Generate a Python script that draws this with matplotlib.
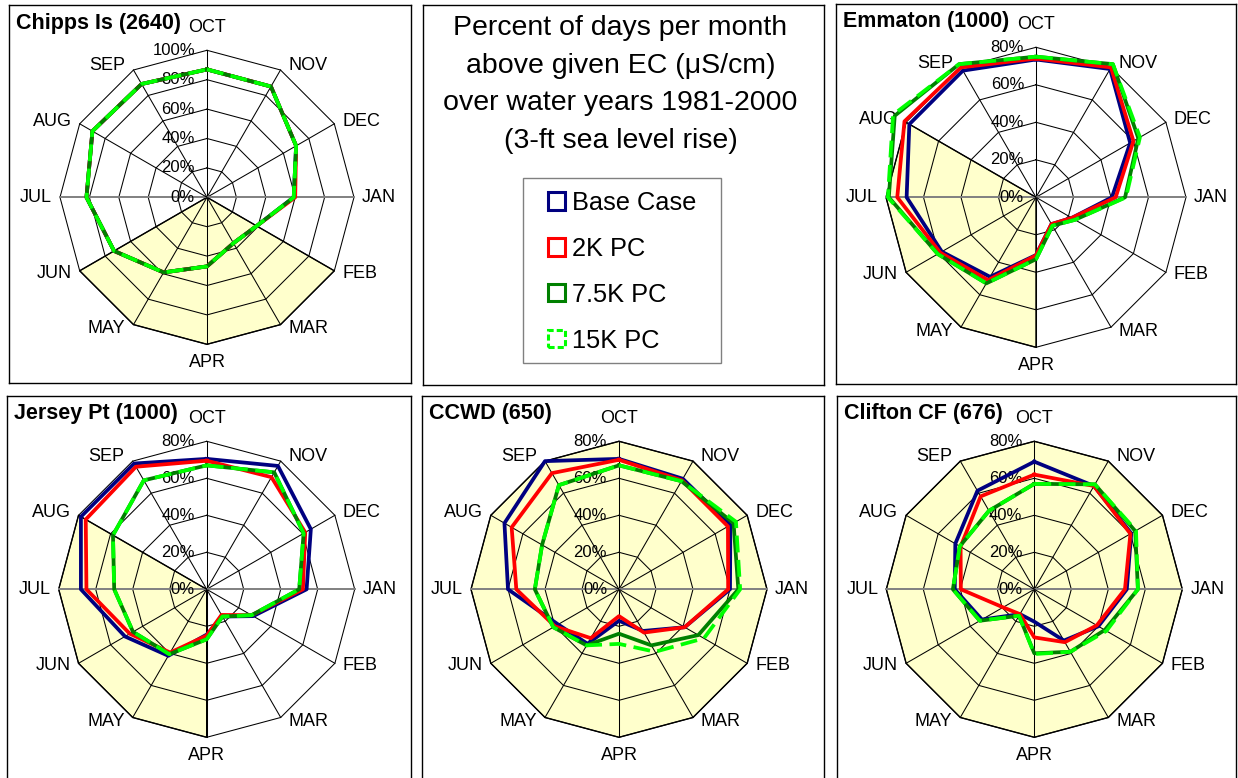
import numpy as np
import matplotlib.pyplot as plt
from matplotlib.patches import Patch, Rectangle

plt.rcParams['font.family'] = ['Liberation Sans', 'DejaVu Sans']

months = ['OCT', 'NOV', 'DEC', 'JAN', 'FEB', 'MAR', 'APR', 'MAY', 'JUN', 'JUL', 'AUG', 'SEP']
series_names = ['Base Case', '2K PC', '7.5K PC', '15K PC']
series_colors = ['#000080', '#FF0000', '#008000', '#00FF00']

title_lines = ['Percent of days per month',
               'above given EC (\u03bcS/cm)',
               'over water years 1981-2000',
               '(3-ft sea level rise)']

# percent of days per month, OCT..SEP
chipps_base = [87, 87, 70, 59, 39, 36, 47, 59, 73, 82, 90, 89]
chipps_2k = [87, 87, 70, 60, 39, 36, 47, 59, 73, 82, 90, 89]
chipps_75k = [87, 87, 70, 59, 39, 36, 47, 59, 73, 82, 90, 89]
chipps_15k = [87, 87, 70, 59, 39, 36, 47, 59, 73, 82, 90, 89]
chipps_shade = [0, 0, 0, 0, 100, 100, 100, 100, 100, 0, 0, 0]

emmaton_base = [73.5, 79, 58, 40.5, 22, 16.5, 30.8, 49, 58, 69, 78, 78]
emmaton_2k = [74, 80, 60, 42.5, 22, 16.5, 31, 51, 59, 74, 81, 80]
emmaton_75k = [75, 82, 63, 47.5, 24, 17.5, 33, 53, 60.5, 78.5, 87, 82]
emmaton_15k = [75, 82, 64, 48, 24, 17.5, 33, 53, 60.5, 79, 88, 82]
emmaton_shade = [0, 0, 0, 0, 0, 0, 80, 80, 80, 80, 80, 0]

jersey_base = [70.5, 77, 65, 54, 29, 17, 24.5, 41.5, 51, 68, 78.5, 78.5]
jersey_2k = [69.5, 70, 61.5, 52, 28, 16, 25, 39.5, 48, 65, 75.5, 76.5]
jersey_75k = [67, 73, 60.5, 50, 28, 17, 27, 40.5, 46, 50, 58.5, 68]
jersey_15k = [67, 73, 60.5, 50, 28, 17, 27, 40.5, 46, 50, 58.5, 68]
jersey_shade = [0, 0, 0, 0, 0, 0, 80, 80, 80, 80, 80, 0]

ccwd_base = [70.5, 69, 69.5, 60, 41, 26, 17, 34, 38, 60, 71.5, 80]
ccwd_2k = [70, 68, 68, 59, 41, 27, 14.5, 30.5, 40, 55.5, 67, 72.5]
ccwd_75k = [67, 67.5, 71.5, 64.5, 49.5, 35, 24, 35, 41, 45.5, 48, 65]
ccwd_15k = [67, 67.5, 73, 65.5, 53, 39, 29.5, 35, 41, 45.5, 48, 65]
ccwd_shade = [80] * 12

clifton_base = [69, 64.5, 60.5, 50, 40, 32, 17.5, 15.5, 32.7, 43, 49.3, 61.5]
clifton_2k = [62, 64.5, 60, 49, 39, 33, 26, 15.5, 19.5, 39.7, 46, 58]
clifton_75k = [57, 65.5, 63, 56, 44, 39, 34.6, 16.5, 34, 44, 46.5, 49]
clifton_15k = [57, 65.5, 63.5, 56, 45, 39, 35, 16.5, 34, 44, 46.5, 49]
clifton_shade = [80] * 12

W, H = 1238, 778
fig = plt.figure(figsize=(W / 100, H / 100), dpi=100)


def px_axes(x0, y0, x1, y1):
    ax = fig.add_axes([x0 / W, 1 - y1 / H, (x1 - x0) / W, (y1 - y0) / H])
    ax.set_xticks([])
    ax.set_yticks([])
    for s in ax.spines.values():
        s.set_linewidth(1.0)
        s.set_color('black')
    return ax


theta = np.arange(12) * 2 * np.pi / 12
sx, sy = np.sin(theta), np.cos(theta)


def closed(v):
    v = np.asarray(v, float)
    return np.append(v * sx, v[0] * sx[0]), np.append(v * sy, v[0] * sy[0])


def radar_panel(box, center, radius, vmax, title, series, shade):
    x0, y0, x1, y1 = box
    ax = px_axes(*box)
    cx, cy = center
    k = vmax / radius
    ax.set_xlim((x0 - cx) * k, (x1 - cx) * k)
    ax.set_ylim((cy - y1) * k, (cy - y0) * k)

    xs, ys = closed(shade)
    ax.fill(xs, ys, facecolor='#FFFFCC', edgecolor='black', linewidth=1.0, zorder=1)

    for lev in np.arange(20, vmax + 1, 20):
        xs, ys = closed([lev] * 12)
        ax.plot(xs, ys, color='black', lw=0.75, zorder=2)
    for i in range(12):
        if i in (3, 9):
            ax.plot([0, vmax * sx[i]], [0, vmax * sy[i]], color='#808080', lw=1.4, zorder=2)
        else:
            ax.plot([0, vmax * sx[i]], [0, vmax * sy[i]], color='black', lw=0.75, zorder=2)

    for lev in np.arange(0, vmax + 1, 20):
        ax.annotate(f'{lev}%', (0, lev), xytext=(-12, 0), textcoords='offset pixels',
                    ha='right', va='center', fontsize=12, zorder=3)

    for i, m in enumerate(months):
        vx, vy = vmax * sx[i], vmax * sy[i]
        if i == 0:
            off, ha = (0, 23), 'center'
        elif i == 6:
            off, ha = (0, -18), 'center'
        elif i < 6:
            off, ha = (8, 5 * sy[i]), 'left'
        else:
            off, ha = (-8, 5 * sy[i]), 'right'
        ax.annotate(m, (vx, vy), xytext=off, textcoords='offset pixels',
                    ha=ha, va='center', fontsize=13)

    for vals, col in zip(series, series_colors):
        xs, ys = closed(vals)
        if col == '#00FF00':
            ax.plot(xs, ys, color=col, lw=2.7, dashes=(4.5, 2), zorder=5)
        else:
            ax.plot(xs, ys, color=col, lw=2.7, zorder=4)

    ax.annotate(title, (0, 1), xycoords='axes fraction', xytext=(7, -18),
                textcoords='offset pixels', ha='left', va='center',
                fontsize=15.5, fontweight='bold')
    return ax


radar_panel((9, 5, 411, 383), (207, 197.3), 147, 100, 'Chipps Is (2640)',
            [chipps_base, chipps_2k, chipps_75k, chipps_15k], chipps_shade)
radar_panel((836, 4, 1236, 384), (1036, 197.3), 150, 80, 'Emmaton (1000)',
            [emmaton_base, emmaton_2k, emmaton_75k, emmaton_15k], emmaton_shade)
radar_panel((7, 396, 411, 800), (206.7, 589.3), 148, 80, 'Jersey Pt (1000)',
            [jersey_base, jersey_2k, jersey_75k, jersey_15k], jersey_shade)
radar_panel((422, 396, 824, 800), (619, 589.3), 148, 80, 'CCWD (650)',
            [ccwd_base, ccwd_2k, ccwd_75k, ccwd_15k], ccwd_shade)
radar_panel((837, 396, 1236, 800), (1034.3, 589.3), 148, 80, 'Clifton CF (676)',
            [clifton_base, clifton_2k, clifton_75k, clifton_15k], clifton_shade)

# text / legend panel
tx0, ty0, tx1, ty1 = 423, 5, 824, 385
ax2 = px_axes(tx0, ty0, tx1, ty1)
for j, line in enumerate(title_lines):
    ax2.annotate(line, (0.5, 1), xycoords='axes fraction',
                 xytext=(-3, -(23 + 37.6 * j)), textcoords='offset pixels',
                 ha='center', va='center', fontsize=20.5)

handles = []
for name, col in zip(series_names, series_colors):
    ls = (0, (2, 1)) if col == '#00FF00' else '-'
    handles.append(Patch(facecolor='none', edgecolor=col, linewidth=2.2, linestyle=ls))
tw, th = tx1 - tx0, ty1 - ty0
ax2.add_patch(Rectangle(((523 - tx0) / tw, 1 - (363 - ty0) / th),
                        (721 - 523) / tw, (363 - 178) / th,
                        transform=ax2.transAxes, fill=False, edgecolor='#808080', lw=1.0))
ax2.legend(handles, series_names, loc='upper left',
           bbox_to_anchor=((548 - tx0) / tw, 1 - (191 - ty0) / th),
           frameon=False, fontsize=18.3, handlelength=0.67, handleheight=0.67,
           handletextpad=0.28, labelspacing=0.86, borderpad=0, borderaxespad=0)

fig.savefig('out.png', dpi=100)
